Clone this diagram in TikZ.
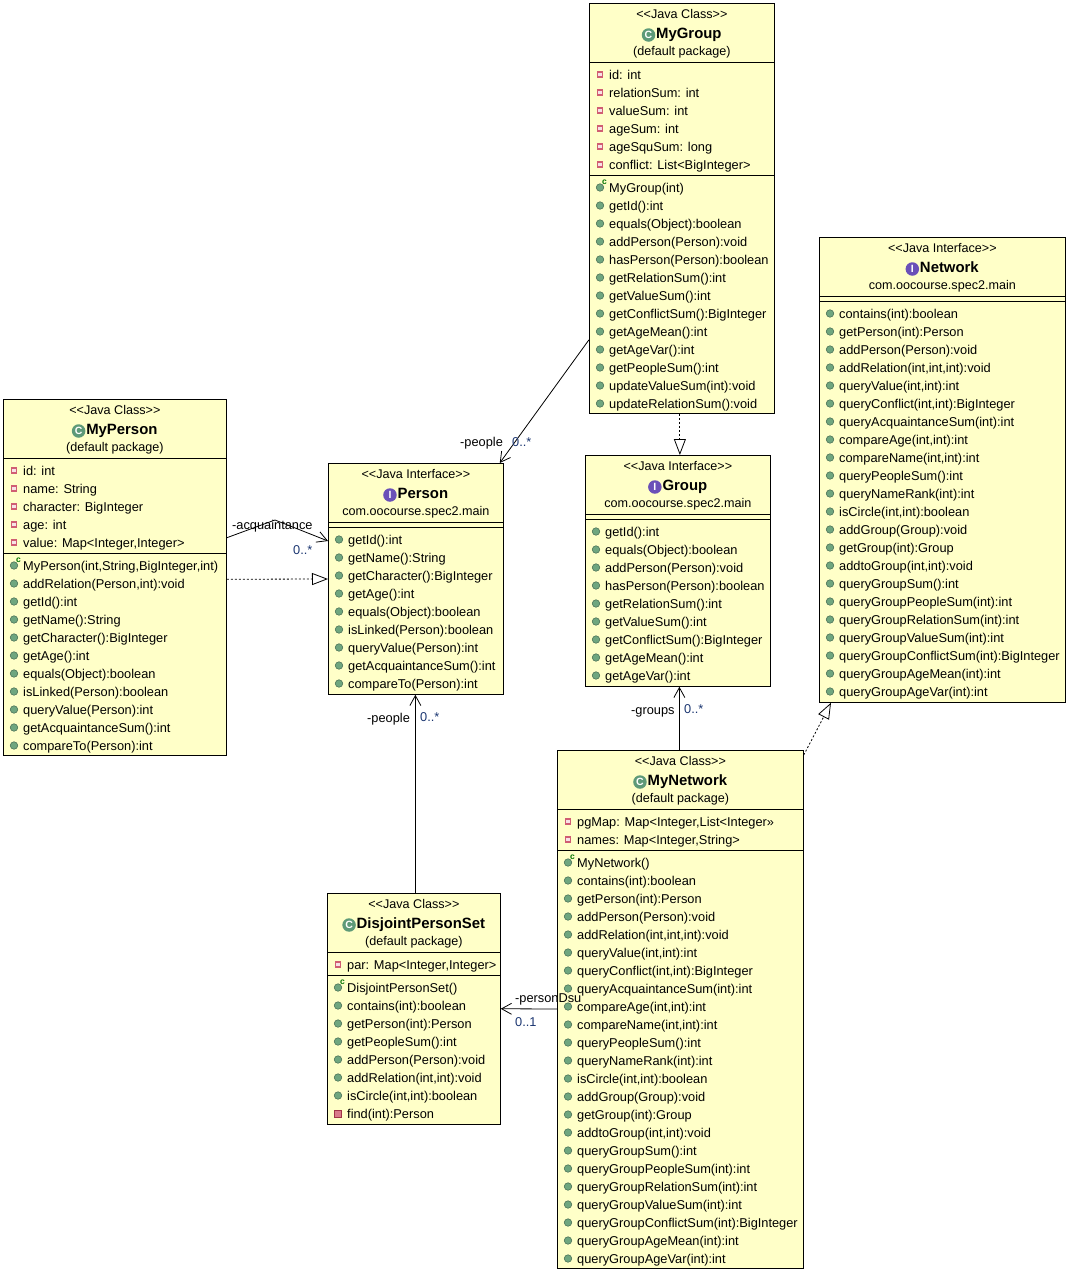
\documentclass[tikz,border=0pt]{standalone}
\usepackage{fontspec}
\setmainfont{Liberation Sans}
\usetikzlibrary{arrows.meta,positioning}
\definecolor{classfill}{HTML}{FFFFC8}
\definecolor{methodgreen}{HTML}{6FA67F}
\definecolor{fieldred}{HTML}{C8405A}
\definecolor{multblue}{HTML}{1A3570}
\definecolor{classgreen}{HTML}{5E9A78}
\definecolor{ifacepurple}{HTML}{6A50B8}
\tikzset{
  classbox/.style={draw=black,fill=classfill,line width=1pt,inner sep=0pt,outer sep=0pt},
  headtext/.style={font=\fontsize{12.6}{14}\selectfont,inner sep=0pt,text height=9pt,text depth=3pt},
  nametext/.style={font=\fontsize{14.9}{16}\selectfont\bfseries,inner sep=0pt,text height=10pt,text depth=3pt},
  membertext/.style={font=\fontsize{12.8}{14}\selectfont,inner sep=0pt,anchor=west,text height=12pt,text depth=2pt},
  linktext/.style={font=\fontsize{12.8}{14}\selectfont,inner sep=0pt,anchor=west,text height=12pt,text depth=2pt},
  multtext/.style={linktext,text=multblue},
  classicon/.style={circle,fill=classgreen,text=white,font=\fontsize{10.5}{10}\selectfont\bfseries,inner sep=0pt,minimum size=13.5pt},
  ifaceicon/.style={circle,fill=ifacepurple,text=white,font=\fontsize{10.5}{10}\selectfont\bfseries,inner sep=0pt,minimum size=13.5pt},
  fieldicon/.style={rectangle,draw=fieldred!85,fill=fieldred!15,line width=1.2pt,inner sep=0pt,minimum size=5pt,yshift=-0.5pt},
  methodicon/.style={circle,draw=methodgreen!70!black,fill=methodgreen,line width=0.6pt,inner sep=0pt,minimum size=7.5pt,yshift=-0.5pt},
  privicon/.style={rectangle,draw=fieldred!80!black,fill=fieldred!70,line width=0.8pt,inner sep=0pt,minimum size=7pt,yshift=-0.5pt},
  ctormark/.style={text=green!45!black,font=\fontsize{8.5}{8}\selectfont\bfseries,inner sep=0pt},
  assoc/.style={-{Straight Barb[length=10pt,width=11pt]},line width=0.8pt},
  realize/.style={-{Triangle[open,length=16pt,width=12pt,fill=white]},line width=0.8pt,dash pattern=on 2pt off 2pt}
}
% box from its corners
\newcommand{\umlbox}[5]{
  \pgfmathsetmacro\boxw{#4-#2-0.25}
  \pgfmathsetmacro\boxh{#5-#3-0.25}
  \node[classbox,minimum width=\boxw pt,minimum height=\boxh pt] (#1) at ({(#2+#4-0.25)/2},{(#3+#5-0.25)/2}) {};
}
\newcommand{\umlhead}[6]{
  \node[headtext,yshift=-12pt] (#1stereo) at (#1.north) {#2};
  \node[nametext,xshift=7pt,yshift=-31.5pt] (#1name) at (#1.north) {#5};
  \node[#3,left=0.5pt of #1name,yshift=-0.5pt] (#1icon) {#4};
  \node[headtext,yshift=-49.5pt] (#1pack) at (#1.north) {#6};
}
\newcommand{\umlline}[2]{\draw[line width=1pt] (#1.west |- 0,#2) -- (#1.east |- 0,#2);}
\newcommand{\umlrows}[4]{
  \foreach \rowtext [count=\rowi from 0] in {#4} {
    \pgfmathtruncatemacro\rowy{#3+18*\rowi}
    \node[#2,xshift=11pt] (#1-\rowy-icon) at (#1.west |- 0,\rowy) {};
    \node[membertext,xshift=20pt] (#1-\rowy) at (#1.west |- 0,\rowy) {\rowtext};
  }
}
\newcommand{\umlctor}[3]{
  \node[methodicon,xshift=11pt] (#1-#2-icon) at (#1.west |- 0,#2) {};
  \node[ctormark,xshift=4.5pt,yshift=5pt] (#1-#2-mark) at (#1-#2-icon) {c};
  \node[membertext,xshift=20pt] (#1-#2) at (#1.west |- 0,#2) {#3};
}
\begin{document}
\begin{tikzpicture}[x=1pt,y=-1pt]
  \useasboundingbox (0,0) rectangle (1069,1272);

  % MyGroup
  \umlbox{mygroup}{589}{3}{775}{414}
  \umlhead{mygroup}{<{}<Java Class>{}>}{classicon}{C}{MyGroup}{(default package)}
  \umlline{mygroup}{62}
  \umlline{mygroup}{175}
  \umlrows{mygroup}{fieldicon}{74}{id: int,relationSum: int,valueSum: int,ageSum: int,ageSquSum: long,conflict: List<BigInteger>}
  \umlctor{mygroup}{187}{MyGroup(int)}
  \umlrows{mygroup}{methodicon}{205}{getId():int,equals(Object):boolean,addPerson(Person):void,hasPerson(Person):boolean,getRelationSum():int,getValueSum():int,getConflictSum():BigInteger,getAgeMean():int,getAgeVar():int,getPeopleSum():int,updateValueSum(int):void,updateRelationSum():void}

  % Network
  \umlbox{network}{819}{237}{1066}{703}
  \umlhead{network}{<{}<Java Interface>{}>}{ifaceicon}{I}{Network}{com.oocourse.spec2.main}
  \umlline{network}{296}
  \umlline{network}{301}
  \umlrows{network}{methodicon}{313}{contains(int):boolean,getPerson(int):Person,addPerson(Person):void,{addRelation(int,int,int):void},{queryValue(int,int):int},{queryConflict(int,int):BigInteger},queryAcquaintanceSum(int):int,{compareAge(int,int):int},{compareName(int,int):int},queryPeopleSum():int,queryNameRank(int):int,{isCircle(int,int):boolean},addGroup(Group):void,getGroup(int):Group,{addtoGroup(int,int):void},queryGroupSum():int,queryGroupPeopleSum(int):int,queryGroupRelationSum(int):int,queryGroupValueSum(int):int,queryGroupConflictSum(int):BigInteger,queryGroupAgeMean(int):int,queryGroupAgeVar(int):int}

  % MyPerson
  \umlbox{myperson}{3}{399}{227}{756}
  \umlhead{myperson}{<{}<Java Class>{}>}{classicon}{C}{MyPerson}{(default package)}
  \umlline{myperson}{458}
  \umlline{myperson}{553}
  \umlrows{myperson}{fieldicon}{470}{id: int,name: String,character: BigInteger,age: int,{value: Map<Integer,Integer>}}
  \umlctor{myperson}{565}{MyPerson(int,String,BigInteger,int)}
  \umlrows{myperson}{methodicon}{583}{{addRelation(Person,int):void},getId():int,getName():String,getCharacter():BigInteger,getAge():int,equals(Object):boolean,isLinked(Person):boolean,queryValue(Person):int,getAcquaintanceSum():int,compareTo(Person):int}

  % Person
  \umlbox{person}{328}{463}{504}{695}
  \umlhead{person}{<{}<Java Interface>{}>}{ifaceicon}{I}{Person}{com.oocourse.spec2.main}
  \umlline{person}{522}
  \umlline{person}{527}
  \umlrows{person}{methodicon}{539}{getId():int,getName():String,getCharacter():BigInteger,getAge():int,equals(Object):boolean,isLinked(Person):boolean,queryValue(Person):int,getAcquaintanceSum():int,compareTo(Person):int}

  % Group
  \umlbox{group}{585}{455}{771}{687}
  \umlhead{group}{<{}<Java Interface>{}>}{ifaceicon}{I}{Group}{com.oocourse.spec2.main}
  \umlline{group}{514}
  \umlline{group}{519}
  \umlrows{group}{methodicon}{531}{getId():int,equals(Object):boolean,addPerson(Person):void,hasPerson(Person):boolean,getRelationSum():int,getValueSum():int,getConflictSum():BigInteger,getAgeMean():int,getAgeVar():int}

  % MyNetwork
  \umlbox{mynetwork}{557}{750}{804}{1269}
  \umlhead{mynetwork}{<{}<Java Class>{}>}{classicon}{C}{MyNetwork}{(default package)}
  \umlline{mynetwork}{809}
  \umlline{mynetwork}{850}
  \umlrows{mynetwork}{fieldicon}{821}{{pgMap: Map<Integer,List<Integer>>},{names: Map<Integer,String>}}
  \umlctor{mynetwork}{862}{MyNetwork()}
  \umlrows{mynetwork}{methodicon}{880}{contains(int):boolean,getPerson(int):Person,addPerson(Person):void,{addRelation(int,int,int):void},{queryValue(int,int):int},{queryConflict(int,int):BigInteger},queryAcquaintanceSum(int):int,{compareAge(int,int):int},{compareName(int,int):int},queryPeopleSum():int,queryNameRank(int):int,{isCircle(int,int):boolean},addGroup(Group):void,getGroup(int):Group,{addtoGroup(int,int):void},queryGroupSum():int,queryGroupPeopleSum(int):int,queryGroupRelationSum(int):int,queryGroupValueSum(int):int,queryGroupConflictSum(int):BigInteger,queryGroupAgeMean(int):int,queryGroupAgeVar(int):int}

  % DisjointPersonSet
  \umlbox{disjoint}{327}{893}{501}{1125}
  \umlhead{disjoint}{<{}<Java Class>{}>}{classicon}{C}{DisjointPersonSet}{(default package)}
  \umlline{disjoint}{952}
  \umlline{disjoint}{975}
  \umlrows{disjoint}{fieldicon}{964}{{par: Map<Integer,Integer>}}
  \umlctor{disjoint}{987}{DisjointPersonSet()}
  \umlrows{disjoint}{methodicon}{1005}{contains(int):boolean,getPerson(int):Person,getPeopleSum():int,addPerson(Person):void,{addRelation(int,int):void},{isCircle(int,int):boolean}}
  \umlrows{disjoint}{privicon}{1113}{find(int):Person}

  % connectors
  \coordinate (acqbend) at (275,520);
  \draw[assoc] ([yshift=74pt]mygroup.south west) -- ([xshift=-4pt]person.north east);
  \draw[assoc] ([yshift=218pt]myperson.south east) -- (acqbend) -- ([yshift=-78pt]person.north west);
  \draw[realize] ([yshift=176.5pt]myperson.south east) -- ([yshift=-116pt]person.north west);
  \draw[realize] ([xshift=-2pt]mygroup.south) -- ([xshift=2pt]group.north);
  \draw[assoc] ([xshift=-1pt]mynetwork.north) -- ([xshift=1.5pt]group.south);
  \draw[realize] ([yshift=-5pt]mynetwork.north east) -- ([xshift=12pt]network.south west);
  \draw[assoc] ([xshift=1.5pt]disjoint.north) -- ([xshift=-0.5pt]person.south);
  \draw[assoc] ([yshift=-259pt]mynetwork.north west) -- ([yshift=116pt]disjoint.south east);

  % labels
  \node[linktext] (peoplelabel) at (460,441) {-people};
  \node[multtext] (peoplemult) at (512,441) {0..*};
  \node[linktext] (acqlabel) at (232,524) {-acquaintance};
  \node[multtext] (acqmult) at (293,549) {0..*};
  \node[linktext] (dsupeople) at (367,717) {-people};
  \node[multtext] (dsumult) at (420,716) {0..*};
  \node[linktext] (groupslabel) at (631,709) {-groups};
  \node[multtext] (groupsmult) at (684,708) {0..*};
  \node[linktext] (dsulabel) at (515,997) {-personDsu};
  \node[multtext] (dsuone) at (515,1021) {0..1};
\end{tikzpicture}
\end{document}
